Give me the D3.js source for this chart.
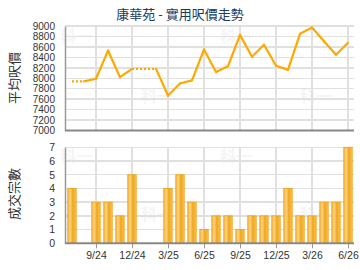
<!DOCTYPE html>
<html>
<head>
<meta charset="utf-8">
<script src="https://cdn.jsdelivr.net/npm/d3@7"></script>
<style>
  body { margin: 0; background: #fff; }
  svg { display: block; font-family: "Liberation Sans", Arial, "Noto Sans CJK TC", sans-serif; }
  .grid line { stroke: #e0e0e0; stroke-width: 1.5; shape-rendering: crispEdges; }
  .axis text { fill: #333; font-size: 10.5px; }
  .axis.price text { font-size: 10px; }
  .axis path, .axis line { stroke: #999; }
</style>
</head>
<body>
<svg id="chart" width="360" height="270"></svg>
<script>
// 月份
var months = ["7/24","8/24","9/24","10/24","11/24","12/24","1/25","2/25","3/25","4/25","5/25","6/25",
              "7/25","8/25","9/25","10/25","11/25","12/25","1/26","2/26","3/26","4/26","5/26","6/26"];
// 平均呎價 (null = 冇成交)
var prices = [7940, null, 7990, 8530, 8020, 8180, null, null, 7670, 7900, 7960, 8550,
              8120, 8230, 8830, 8410, 8640, 8240, 8160, 8850, 8970, 8710, 8450, 8680];
// 成交宗數
var deals = [4, 0, 3, 3, 2, 5, 0, 0, 4, 5, 3, 1, 2, 2, 1, 2, 2, 2, 4, 2, 2, 3, 3, 7];
var tickMonths = ["9/24","12/24","3/25","6/25","9/25","12/25","3/26","6/26"];
var priceTicks = d3.range(7000, 9001, 200);
var dealTicks = d3.range(0, 8, 1);

var svg = d3.select("#chart"),
    left = 65, right = 354

var x = d3.scalePoint().domain(months).range([66, 354]).padding(0.5)
var y = d3.scaleLinear().domain([7000, 9000]).range([130.5, 26])
var y2 = d3.scaleLinear().domain([0, 7]).range([243.3, 147.3])

// 漸變 for bars
var defs = svg.append("defs")
var grad = defs.append("linearGradient").attr("id", "barGrad")
    .attr("x1", "0%").attr("x2", "100%").attr("y1", "0%").attr("y2", "0%")
grad.append("stop").attr("offset", "0%").attr("stop-color", "#f6b73c")
grad.append("stop").attr("offset", "30%").attr("stop-color", "#fcd27c")
grad.append("stop").attr("offset", "60%").attr("stop-color", "#f2a51f")
grad.append("stop").attr("offset", "100%").attr("stop-color", "#f9c453")

// title
svg.append("text")
    .attr("x", 180).attr("y", 19)
    .attr("text-anchor", "middle")
    .style("font-size", "13px")
    .style("font-family", "'Noto Sans CJK TC', sans-serif")
    .style("fill", "#1c3a5e")
    .text("康華苑 - 實用呎價走勢")

// watermark
var marks = [[76, 42], [157, 102], [236, 42], [316, 102], [76, 162], [157, 220], [236, 162], [316, 220]]
svg.append("g").selectAll("text").data(marks).enter().append("text")
    .attr("x", d => d[0]).attr("y", d => d[1])
    .attr("text-anchor", "middle")
    .style("font-size", "16px").style("font-weight", "bold")
    .style("font-family", "'Noto Sans CJK TC', sans-serif")
    .style("fill", "#f5f5f5")
    .text("科一")

function drawGrid(ys, ticks, yTop, yBot) {
    var g = svg.append("g").attr("class", "grid")
    g.selectAll(".h").data(ticks).enter().append("line")
        .attr("x1", left).attr("x2", right)
        .attr("y1", d => ys(d)).attr("y2", d => ys(d))
    g.selectAll(".v").data(tickMonths).enter().append("line")
        .attr("x1", d => x(d)).attr("x2", d => x(d))
        .attr("y1", yTop).attr("y2", yBot)
}
drawGrid(y, priceTicks, 26, 130.5)
drawGrid(y2, dealTicks, 147.3, 243.3)

// y axes
function drawYAxis(ys, ticks, cls) {
    var ax = svg.append("g").attr("class", "axis " + cls)
        .attr("transform", "translate(" + left + ",0)")
        .call(d3.axisLeft(ys).tickValues(ticks).tickSize(0).tickPadding(10).tickFormat(d3.format("d")))
    ax.select(".domain").attr("stroke", "#888").attr("stroke-width", 1.5)
}
drawYAxis(y, priceTicks, "price")
drawYAxis(y2, dealTicks, "deal")

// bottom lines
svg.append("line").attr("x1", left).attr("x2", right).attr("y1", 130.5).attr("y2", 130.5)
    .attr("stroke", "#888").attr("stroke-width", 2)

// axis titles
function yTitle(txt, cy) {
    svg.append("text")
        .attr("transform", "translate(19," + cy + ") rotate(-90)")
        .attr("text-anchor", "middle")
        .style("font-size", "13px")
        .style("font-family", "'Noto Sans CJK TC', sans-serif")
        .style("fill", "#333")
        .text(txt)
}
yTitle("平均呎價", 78)
yTitle("成交宗數", 194)

// price line: 冇成交月份沿用上月, 虛線
var pts = []
var last = null
prices.forEach(function(p, i) {
    var miss = p == null
    if (!miss) last = p
    pts.push({m: months[i], v: last, miss: miss})
})
var segs = d3.range(1, pts.length).map(i => ({a: pts[i - 1], b: pts[i]}))

svg.append("g").selectAll("line").data(segs).enter().append("line")
    .attr("x1", d => x(d.a.m)).attr("y1", d => y(d.a.v))
    .attr("x2", d => x(d.b.m)).attr("y2", d => y(d.b.v))
    .attr("stroke", "#ffa800")
    .attr("stroke-width", 2.2)
    .attr("stroke-linecap", d => d.b.miss ? "butt" : "round")
    .attr("stroke-dasharray", d => d.b.miss ? "2,2" : null)

// bars
svg.append("g").selectAll("rect").data(deals.map((d, i) => ({m: months[i], v: d}))
        .filter(d => d.v > 0))
    .enter().append("rect")
    .attr("x", d => x(d.m) - 4.2)
    .attr("width", 8.4)
    .attr("y", d => y2(d.v))
    .attr("height", d => y2(0) - y2(d.v))
    .attr("fill", "url(#barGrad)")
    .attr("stroke", "#f0a010")
    .attr("stroke-width", 0.8)

// x axis
var xa = svg.append("g").attr("class", "axis")
    .attr("transform", "translate(0,243.3)")
    .call(d3.axisBottom(x).tickValues(tickMonths).tickSize(5).tickPadding(3))
xa.select(".domain").remove()
svg.append("line").attr("x1", left).attr("x2", right).attr("y1", 243.3).attr("y2", 243.3)
    .attr("stroke", "#888").attr("stroke-width", 2)
</script>
</body>
</html>
